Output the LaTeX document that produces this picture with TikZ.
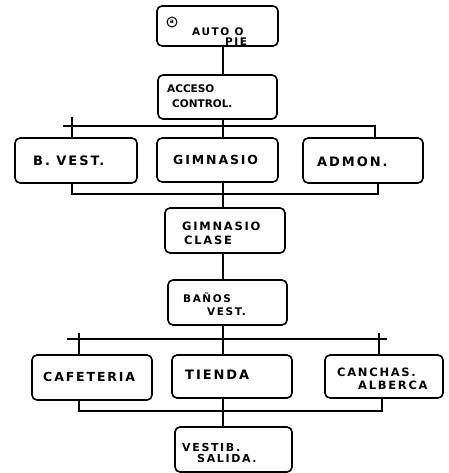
\documentclass[tikz,border=0pt]{standalone}
\usepackage{fontspec}
\usepackage{tikz}
\usetikzlibrary{calc}
\setmainfont{DejaVu Sans}
\newfontfamily\handfont[LetterSpace=15]{DejaVu Sans}

\begin{document}
\begin{tikzpicture}[x=1pt, y=-1pt,
  box/.style={draw, line width=1.6pt, rounded corners=5pt, inner sep=0pt},
  lbl/.style={font=\handfont\bfseries\fontsize{#1}{#1}\selectfont,
    inner sep=0pt, align=left, anchor=west},
  lbl/.default=12,
  link/.style={line width=1.4pt}]
  \useasboundingbox (0,0) rectangle (448,473);

  % Boxes
  \node[box, minimum width=121pt, minimum height=40pt] (auto) at (217.5,26) {};
  \node[box, minimum width=119pt, minimum height=44pt] (acceso) at (217.5,97) {};
  \node[box, minimum width=122pt, minimum height=45pt] (bvest) at (76,160.5) {};
  \node[box, minimum width=121pt, minimum height=44pt] (gim) at (217.5,160) {};
  \node[box, minimum width=120pt, minimum height=45pt] (admon) at (363,160.5) {};
  \node[box, minimum width=120pt, minimum height=45pt] (clase) at (225,230.5) {};
  \node[box, minimum width=119pt, minimum height=45pt] (banos) at (227.5,302.5) {};
  \node[box, minimum width=120pt, minimum height=45pt] (cafe) at (92,377.5) {};
  \node[box, minimum width=120pt, minimum height=43pt] (tienda) at (232,376.5) {};
  \node[box, minimum width=118pt, minimum height=43pt] (canchas) at (384,376.5) {};
  \node[box, minimum width=117pt, minimum height=45pt] (vestib) at (233.5,449.5) {};

  % Texts
  \node[draw, circle, line width=1pt, minimum size=10pt, inner sep=0pt,
    font=\bfseries\fontsize{6}{6}\selectfont] (sym) at (172,22) {a};
  \node[lbl=10.5] (autoT) at (192,37) {AUTO O\\[-0.5pt]\hspace*{33pt}PIE};
  \node[lbl=10.5] (accesoT) at (167,96.5)
    {\addfontfeature{LetterSpace=0}ACCESO\\[4.5pt]
     \hspace*{5pt}\addfontfeature{LetterSpace=0}CONTROL.};
  \node[lbl=13] (bvestT) at (33,161) {B. VEST.};
  \node[lbl=12.5] (gimT) at (173,160) {GIMNASIO};
  \node[lbl=13] (admonT) at (317,162) {ADMON.};
  \node[lbl=11.5] (claseT) at (182,233) {GIMNASIO\\[2.5pt]\hspace*{2pt}CLASE};
  \node[lbl=10.5] (banosT) at (183,304.5) {BAÑOS\\[2.5pt]\hspace*{24pt}VEST.};
  \node[lbl=12.5] (cafeT) at (43,377) {CAFETERIA};
  \node[lbl=13] (tiendaT) at (185,375) {TIENDA};
  \node[lbl=11.5] (canchasT) at (337,378.5) {CANCHAS.\\[1.5pt]\hspace*{21pt}ALBERCA};
  \node[lbl=11] (vestibT) at (182,452.5) {VESTIB.\\[0pt]\hspace*{15pt}SALIDA.};

  % Bus points
  \coordinate (spine) at (223,0);
  \coordinate (busTop) at (63,126);
  \coordinate (tickTL) at (72,117);
  \coordinate (cornerTR) at (375,126);
  \coordinate (busMidL) at (72,194);
  \coordinate (busMidR) at (378,194);
  \coordinate (busLowL) at (67,339);
  \coordinate (busLowR) at (387,339);
  \coordinate (tickBL) at (79,333);
  \coordinate (tickBR) at (379,333);
  \coordinate (busEndL) at (79,411);
  \coordinate (busEndR) at (382,411);

  % Connectors
  \draw[link] (auto.south -| spine) -- (acceso.north -| spine);
  \draw[link] (acceso.south -| spine) -- (gim.north -| spine);
  \draw[link] (busTop) -- (cornerTR) -- (cornerTR |- admon.north);
  \draw[link] (tickTL) -- (tickTL |- bvest.north);
  \draw[link] (busMidL |- bvest.south) -- (busMidL) -- (busMidR)
    -- (busMidR |- admon.south);
  \draw[link] (gim.south -| spine) -- (clase.north -| spine);
  \draw[link] (clase.south -| spine) -- (banos.north -| spine);
  \draw[link] (busLowL) -- (busLowR);
  \draw[link] (tickBL) -- (tickBL |- cafe.north);
  \draw[link] (tickBR) -- (tickBR |- canchas.north);
  \draw[link] (banos.south -| spine) -- (tienda.north -| spine);
  \draw[link] (busEndL |- cafe.south) -- (busEndL) -- (busEndR)
    -- (busEndR |- canchas.south);
  \draw[link] (tienda.south -| spine) -- (vestib.north -| spine);
\end{tikzpicture}
\end{document}
